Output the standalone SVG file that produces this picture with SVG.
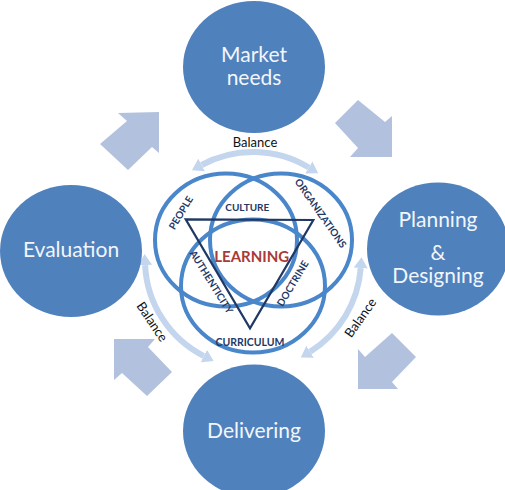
<svg xmlns="http://www.w3.org/2000/svg" width="505" height="490" viewBox="0 0 505 490">
<style>
.node{fill:#4f81bd}
.ntxt{font-family:Lato,"Liberation Sans",sans-serif;font-size:21px;fill:#f2f6fb;text-anchor:middle}
.blk{fill:#b2c2de}
.bal{fill:none;stroke:#c4d6ee;stroke-width:6}
.btxt{font-family:Lato,"Liberation Sans",sans-serif;font-size:13px;fill:#111;text-anchor:middle;dominant-baseline:central}
.venn{fill:none;stroke:#4a86ca;stroke-width:4}
.vtxt{font-family:Lato,"Liberation Sans",sans-serif;font-weight:bold;font-size:10px;fill:#1f3864;text-anchor:middle;dominant-baseline:central}
</style>
<defs>
<marker id="ah" viewBox="0 -8 12 16" refX="0" refY="0" markerWidth="12" markerHeight="16" markerUnits="userSpaceOnUse" orient="auto-start-reverse">
<path d="M0,-7 L11,0 L0,7 z" fill="#c4d6ee"/>
</marker>
</defs>
<rect width="505" height="490" fill="#ffffff"/>
<g id="connectors">
<polygon class="blk" points="159,112 118,113 127,121 100,144 128,170 152,147 159,153"/>
<polygon class="blk" points="358,100 335,123 358,148 350,157 392,157 392,116 385,122"/>
<polygon class="blk" points="392,333 416,357 392,382 398,389 358,389 358,349 365,357"/>
<polygon class="blk" points="114,339 155,339 148,347 172,372 147,396 122,373 114,380"/>
<path class="bal" d="M201.6,165 A108,108 0 0 1 308.8,167.5" marker-start="url(#ah)" marker-end="url(#ah)"/>
<path class="bal" d="M360.7,268.1 A108,108 0 0 1 310.1,351.7" marker-start="url(#ah)" marker-end="url(#ah)"/>
<path class="bal" d="M145.1,265.1 A108,108 0 0 0 203.8,356.1" marker-start="url(#ah)" marker-end="url(#ah)"/>
<text class="btxt" x="255" y="142">Balance</text>
<text class="btxt" transform="translate(360,317.5) rotate(-55)">Balance</text>
<text class="btxt" transform="translate(152.5,321.5) rotate(56)">Balance</text>
</g>
<g id="market-needs">
<ellipse class="node" cx="254" cy="67" rx="71" ry="66"/>
<text class="ntxt" x="254" y="62">Market</text>
<text class="ntxt" x="254" y="85">needs</text>
</g>
<g id="planning-designing">
<ellipse class="node" cx="438" cy="249" rx="71" ry="66.5"/>
<text class="ntxt" x="438" y="227">Planning</text>
<text class="ntxt" x="438" y="260">&amp;</text>
<text class="ntxt" x="438" y="283">Designing</text>
</g>
<g id="delivering">
<ellipse class="node" cx="254" cy="431" rx="71" ry="66.5"/>
<text class="ntxt" x="254" y="438">Delivering</text>
</g>
<g id="evaluation">
<ellipse class="node" cx="71" cy="251" rx="71" ry="66"/>
<text class="ntxt" x="71" y="257">Evaluation</text>
</g>
<g id="learning-venn">
<ellipse class="venn" cx="226" cy="240" rx="71" ry="66.5"/>
<ellipse class="venn" cx="281" cy="240" rx="71" ry="66.5"/>
<ellipse class="venn" cx="253" cy="286" rx="72" ry="66.5"/>
<polygon points="185.7,219.3 313.3,220 250,328.3" fill="none" stroke="#1f3864" stroke-width="2.2" stroke-linejoin="miter"/>
<text class="vtxt" x="247.3" y="206.7">CULTURE</text>
<text class="vtxt" x="251.7" y="256" style="font-size:15px;fill:#a83a38">LEARNING</text>
<text class="vtxt" x="250" y="341.7" style="font-size:10.5px">CURRICULUM</text>
<text class="vtxt" transform="translate(180.5,212.5) rotate(-59)">PEOPLE</text>
<text class="vtxt" transform="translate(321,213) rotate(55)">ORGANIZATIONS</text>
<text class="vtxt" transform="translate(211.7,281.7) rotate(58)">AUTHENTICITY</text>
<text class="vtxt" transform="translate(292.3,283.3) rotate(-59)">DOCTRINE</text>
</g>
</svg>
